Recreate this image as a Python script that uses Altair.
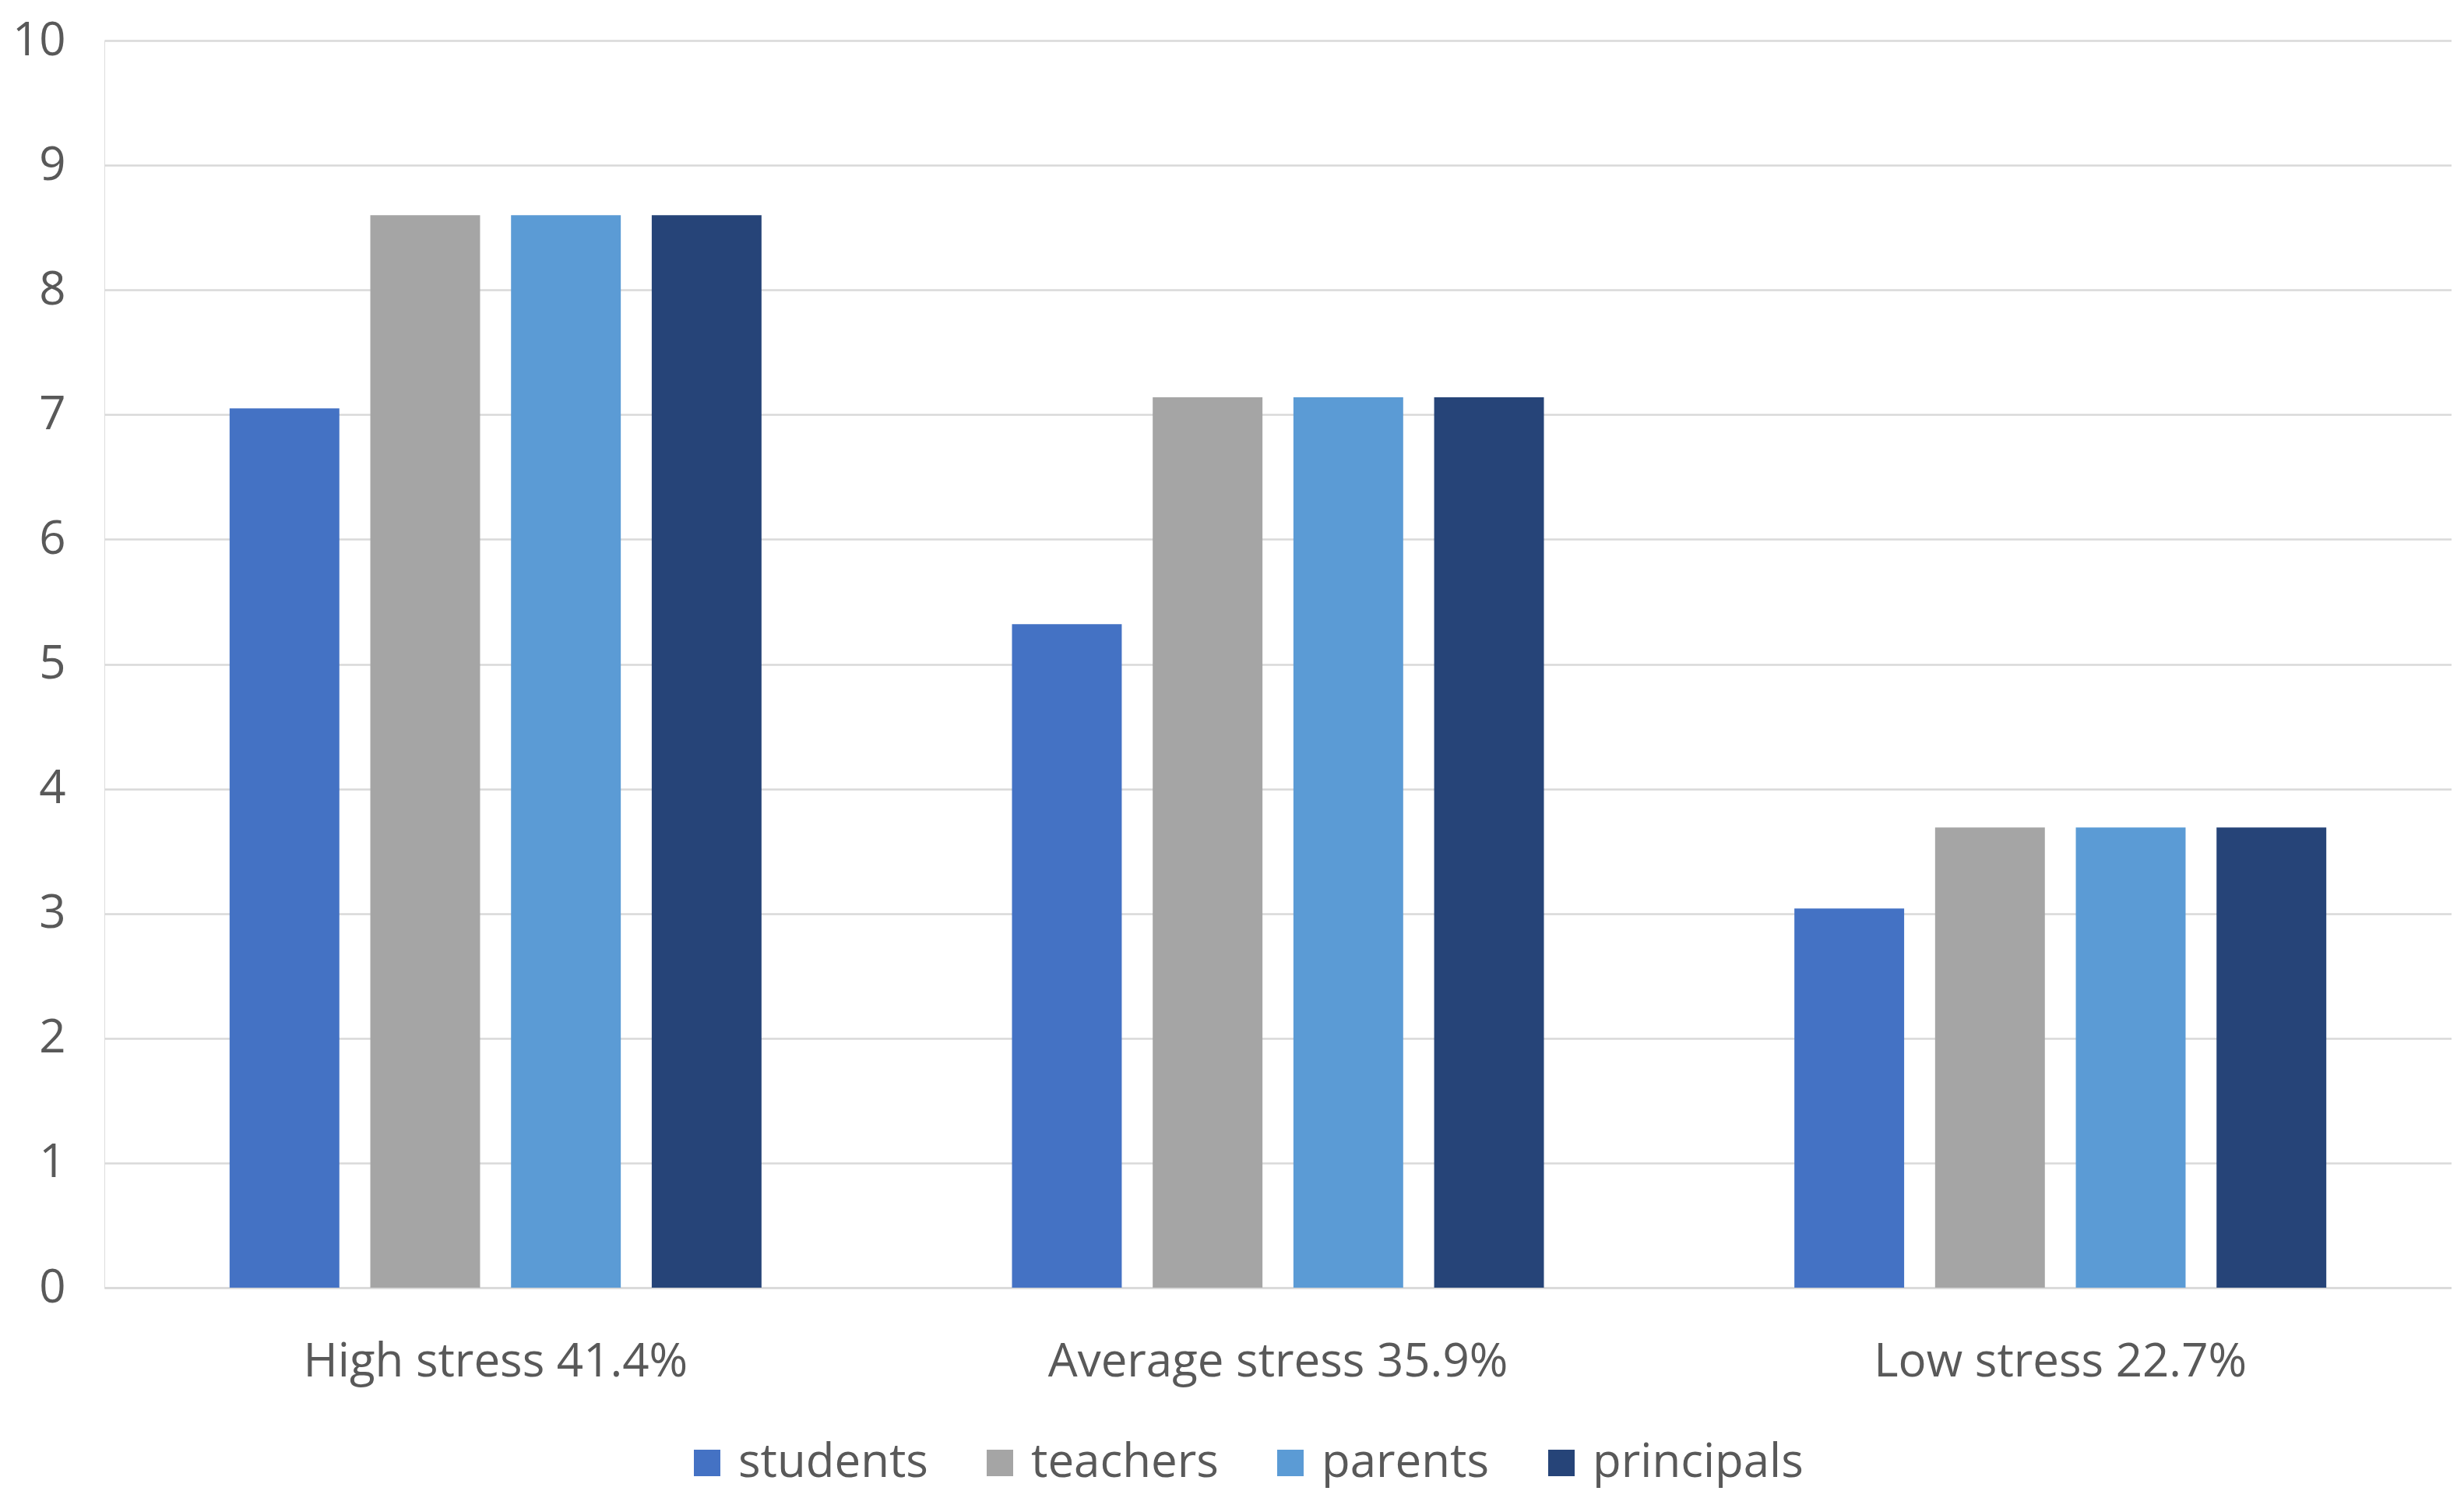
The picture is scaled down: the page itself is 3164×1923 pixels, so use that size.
import altair as alt
import pandas as pd

categories = ["High stress 41.4%", "Average stress 35.9%", "Low stress 22.7%"]
groups = ["students", "teachers", "parents", "principals"]
students = [7.05, 5.32, 3.04]
teachers = [8.6, 7.14, 3.69]
parents = [8.6, 7.14, 3.69]
principals = [8.6, 7.14, 3.69]
colors = ["#4472C4", "#A5A5A5", "#5B9BD5", "#264478"]

series = {"students": students, "teachers": teachers, "parents": parents, "principals": principals}
rows = []
for g in groups:
    for c, v in zip(categories, series[g]):
        rows.append({"category": c, "group": g, "value": v})
df = pd.DataFrame(rows)

FONT = "Open Sans"
TXT = "#595959"
GRID = "#D9D9D9"
FS = 60

chart = alt.Chart(df).mark_bar().encode(
    x=alt.X("category:N", sort=categories, title=None,
            scale=alt.Scale(paddingInner=0, paddingOuter=0),
            axis=alt.Axis(labelAngle=0, labelFontSize=FS, labelColor=TXT, labelFont=FONT,
                          labelPadding=66, labelLimit=0, ticks=False, domain=True,
                          domainColor=GRID, domainWidth=2.5, grid=False)),
    xOffset=alt.XOffset("group:N", sort=groups,
                        scale=alt.Scale(paddingInner=0.22, paddingOuter=0.89)),
    y=alt.Y("value:Q", title=None,
            scale=alt.Scale(domain=[0, 10], nice=False),
            axis=alt.Axis(values=list(range(0, 11)), labelFontSize=FS, labelColor=TXT,
                          labelFont=FONT, labelPadding=50, ticks=False, domain=False,
                          grid=True, gridColor=GRID, gridWidth=2.5)),
    color=alt.Color("group:N", sort=groups,
                    scale=alt.Scale(domain=groups, range=colors),
                    legend=alt.Legend(title=None, orient="none", direction="horizontal",
                                      legendX=744, legendY=1796, symbolType="square",
                                      symbolSize=1156, symbolStrokeWidth=0,
                                      labelFontSize=FS, labelFont=FONT, labelColor=TXT,
                                      labelLimit=0, labelOffset=10, columnPadding=62,
                                      columns=4)),
).properties(
    width=3014, height=1601,
    padding={"left": 126, "top": 44, "right": 0, "bottom": 262},
    autosize=alt.AutoSizeParams(type="none"),
).configure_view(stroke=None).configure(background="white")

chart.save("out.html", embed_options={"renderer": "svg", "actions": False})
